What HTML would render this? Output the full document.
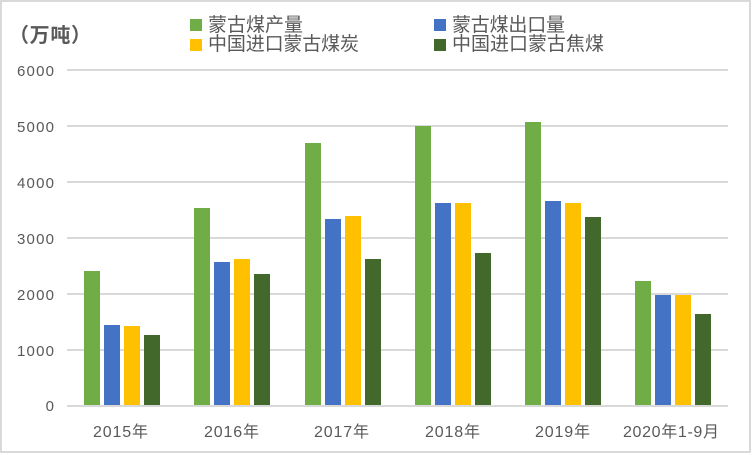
<!DOCTYPE html>
<html>
<head>
<meta charset="utf-8">
<style>
html,body{margin:0;padding:0;background:#fff;}
body{width:752px;height:455px;overflow:hidden;}
svg{display:block;}
text{font-family:"Liberation Sans","Noto Sans CJK SC",sans-serif;fill:#595959;}
</style>
</head>
<body>
<svg width="752" height="455" viewBox="0 0 752 455" xmlns="http://www.w3.org/2000/svg">
  <rect x="0" y="0" width="752" height="455" fill="#fff"/>
  <!-- chart border -->
  <rect x="1" y="1" width="749" height="451" fill="none" stroke="#D9D9D9" stroke-width="2"/>

  <!-- gridlines -->
  <g fill="#D9D9D9">
    <rect x="67" y="69" width="661" height="2"/>
    <rect x="67" y="125" width="661" height="2"/>
    <rect x="67" y="181" width="661" height="2"/>
    <rect x="67" y="237" width="661" height="2"/>
    <rect x="67" y="293" width="661" height="2"/>
    <rect x="67" y="349" width="661" height="2"/>
  </g>

  <!-- bars -->
  <g shape-rendering="crispEdges">
    <!-- 2015 -->
    <rect x="84" y="271" width="16" height="135" fill="#70AD47"/>
    <rect x="104" y="325" width="16" height="81" fill="#4472C4"/>
    <rect x="124" y="326" width="16" height="80" fill="#FFC000"/>
    <rect x="144" y="335" width="16" height="71" fill="#43682B"/>
    <!-- 2016 -->
    <rect x="194" y="208" width="16" height="198" fill="#70AD47"/>
    <rect x="214" y="262" width="16" height="144" fill="#4472C4"/>
    <rect x="234" y="259" width="16" height="147" fill="#FFC000"/>
    <rect x="254" y="274" width="16" height="132" fill="#43682B"/>
    <!-- 2017 -->
    <rect x="305" y="143" width="16" height="263" fill="#70AD47"/>
    <rect x="325" y="219" width="16" height="187" fill="#4472C4"/>
    <rect x="345" y="216" width="16" height="190" fill="#FFC000"/>
    <rect x="365" y="259" width="16" height="147" fill="#43682B"/>
    <!-- 2018 -->
    <rect x="415" y="126" width="16" height="280" fill="#70AD47"/>
    <rect x="435" y="203" width="16" height="203" fill="#4472C4"/>
    <rect x="455" y="203" width="16" height="203" fill="#FFC000"/>
    <rect x="475" y="253" width="16" height="153" fill="#43682B"/>
    <!-- 2019 -->
    <rect x="525" y="122" width="16" height="284" fill="#70AD47"/>
    <rect x="545" y="201" width="16" height="205" fill="#4472C4"/>
    <rect x="565" y="203" width="16" height="203" fill="#FFC000"/>
    <rect x="585" y="217" width="16" height="189" fill="#43682B"/>
    <!-- 2020 -->
    <rect x="635" y="281" width="16" height="125" fill="#70AD47"/>
    <rect x="655" y="295" width="16" height="111" fill="#4472C4"/>
    <rect x="675" y="295" width="16" height="111" fill="#FFC000"/>
    <rect x="695" y="314" width="16" height="92" fill="#43682B"/>
  </g>

  <!-- horizontal axis line -->
  <rect x="67" y="405" width="661" height="2" fill="#D9D9D9"/>

  <!-- y labels -->
  <g font-size="15" text-anchor="end">
    <text x="54" y="76" textLength="37" lengthAdjust="spacing">6000</text>
    <text x="54" y="132" textLength="37" lengthAdjust="spacing">5000</text>
    <text x="54" y="188" textLength="37" lengthAdjust="spacing">4000</text>
    <text x="54" y="244" textLength="37" lengthAdjust="spacing">3000</text>
    <text x="54" y="300" textLength="37" lengthAdjust="spacing">2000</text>
    <text x="54" y="356" textLength="37" lengthAdjust="spacing">1000</text>
    <text x="54" y="411">0</text>
  </g>

  <!-- x labels -->
  <g font-size="16">
    <text x="93" y="437" textLength="55" lengthAdjust="spacing">2015年</text>
    <text x="204" y="437" textLength="55" lengthAdjust="spacing">2016年</text>
    <text x="314" y="437" textLength="55" lengthAdjust="spacing">2017年</text>
    <text x="425" y="437" textLength="55" lengthAdjust="spacing">2018年</text>
    <text x="535" y="437" textLength="55" lengthAdjust="spacing">2019年</text>
    <text x="623" y="437" textLength="96" lengthAdjust="spacing">2020年1-9月</text>
  </g>

  <!-- unit label -->
  <text x="9" y="42" font-size="20" font-weight="bold" fill="#404040" textLength="82" lengthAdjust="spacing">（万吨）</text>

  <!-- legend -->
  <rect x="190" y="19" width="12" height="12" fill="#70AD47"/>
  <rect x="190" y="39" width="12" height="12" fill="#FFC000"/>
  <rect x="434" y="19" width="12" height="12" fill="#4472C4"/>
  <rect x="434" y="39" width="12" height="12" fill="#43682B"/>
  <g font-size="19">
    <text x="208" y="31" textLength="95" lengthAdjust="spacing">蒙古煤产量</text>
    <text x="208" y="50" textLength="151" lengthAdjust="spacing">中国进口蒙古煤炭</text>
    <text x="452" y="31" textLength="113" lengthAdjust="spacing">蒙古煤出口量</text>
    <text x="452" y="50" textLength="152" lengthAdjust="spacing">中国进口蒙古焦煤</text>
  </g>
</svg>
</body>
</html>
